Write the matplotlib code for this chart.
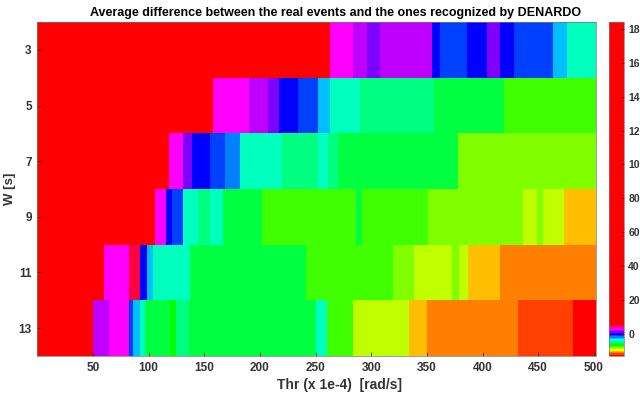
import colorsys
import numpy as np
import matplotlib
matplotlib.use("Agg")
import matplotlib.pyplot as plt
from matplotlib.colors import ListedColormap, Normalize

plt.rcParams['font.family'] = ['Liberation Sans', 'DejaVu Sans']
plt.rcParams['font.weight'] = 'bold'

# window lengths W [s] and, per window, the Thr breakpoints (x 1e-4 rad/s)
# with the average difference measured inside each interval
windows = [3, 5, 7, 9, 11, 13]

thr_w3 = [0, 263, 284, 296, 308, 355, 362, 386, 404, 416, 428, 463, 476, 502]
diff_w3 = [180, 2.8, 2.0, 1.2, 2.0, -0.3, -1.1, -0.3, 1.2, -0.3, -1.1, -2.6, -4.1]

thr_w5 = [0, 158, 190, 207, 217, 234, 252, 263, 290, 356, 419, 502]
diff_w5 = [180, 2.8, 2.0, 1.2, -0.3, -1.1, -2.6, -4.1, -4.9, -5.7, -7.2]

thr_w7 = [0, 118, 131, 139, 155, 169, 182, 220, 252, 261, 270, 378, 502]
diff_w7 = [180, 2.8, 1.2, -0.3, -1.1, -1.8, -4.1, -4.9, -4.1, -4.9, -5.7, -8.0]

thr_w9 = [0, 106, 116, 121, 131, 144, 155, 167, 202, 286, 292, 351, 436, 449,
          454, 473, 502]
diff_w9 = [180, 2.8, -0.3, -1.1, -4.1, -4.9, -4.1, -5.7, -7.2, -5.7, -7.2,
           -8.0, -8.8, -8.0, -8.8, -10.3]

thr_w11 = [0, 60, 82, 92, 99, 104, 137, 241, 320, 338, 373, 379, 387, 416, 502]
diff_w11 = [180, 2.8, 5.0, -0.3, -2.6, -4.1, -5.7, -7.2, -8.0, -8.8, -8.0,
            -8.8, -10.3, -11.1]

thr_w13 = [0, 50, 64, 82, 86, 92, 97, 119, 125, 136, 250, 260, 284, 334, 350,
           432, 481, 502]
diff_w13 = [180, 2.0, 2.8, -1.1, -2.6, -4.1, -5.7, -6.4, -4.9, -5.7, -4.1,
            -7.2, -8.8, -10.3, -11.1, -11.9, -12.6]

rows = [(thr_w3, diff_w3), (thr_w5, diff_w5), (thr_w7, diff_w7),
        (thr_w9, diff_w9), (thr_w11, diff_w11), (thr_w13, diff_w13)]

cbar_ticks = [0, 20, 40, 60, 80, 100, 120, 140, 160, 180]
vmin, vmax = -13, 184

# 256-entry map: first 24 entries walk the hue wheel in 15 degree steps,
# everything above is plain red
n_colors = 256
colors = []
for i in range(n_colors):
    hue = (i * 15.0 / 360.0) if i < 24 else 0.0
    colors.append(colorsys.hsv_to_rgb(hue, 1.0, 1.0))
cmap = ListedColormap(colors)
norm = Normalize(vmin=vmin, vmax=vmax)

fig = plt.figure(figsize=(6.4, 3.99), dpi=100)
ax = fig.add_axes([0.0583, 0.1078, 0.873, 0.837])
cax = fig.add_axes([0.9516, 0.1078, 0.0234, 0.837])

for w, (edges, vals) in zip(windows, rows):
    mesh = ax.pcolormesh(edges, [w - 1, w + 1], np.array([vals]),
                         cmap=cmap, norm=norm, shading='flat')

ax.set_xlim(0, 502)
ax.set_ylim(14, 2)
ax.set_xticks([50, 100, 150, 200, 250, 300, 350, 400, 450, 500])
ax.set_yticks(windows)
ax.tick_params(direction='in', length=3, width=0.6, labelsize=8.5,
               labelcolor='#333333', color='#333333', pad=4)
for sp in ax.spines.values():
    sp.set_linewidth(0.5)
    sp.set_color('#777777')

ax.set_xlabel('Thr (x 1e-4)  [rad/s]', fontsize=10, fontweight='bold',
              color='#333333', labelpad=3, x=0.54)
ax.set_ylabel('W [s]', fontsize=9.5, fontweight='bold', color='#333333',
              labelpad=2)
ax.set_title('Average difference between the real events and the ones '
             'recognized by DENARDO', fontsize=9, fontweight='bold',
             color='black', pad=4, x=0.533)

cb = fig.colorbar(mesh, cax=cax, ticks=cbar_ticks)
cb.outline.set_linewidth(0.5)
cb.outline.set_edgecolor('#777777')
cax.tick_params(direction='in', length=2, width=0.5, labelsize=7.5,
                labelcolor='#333333', color='#333333', pad=3)

fig.savefig('out.png', dpi=100)
